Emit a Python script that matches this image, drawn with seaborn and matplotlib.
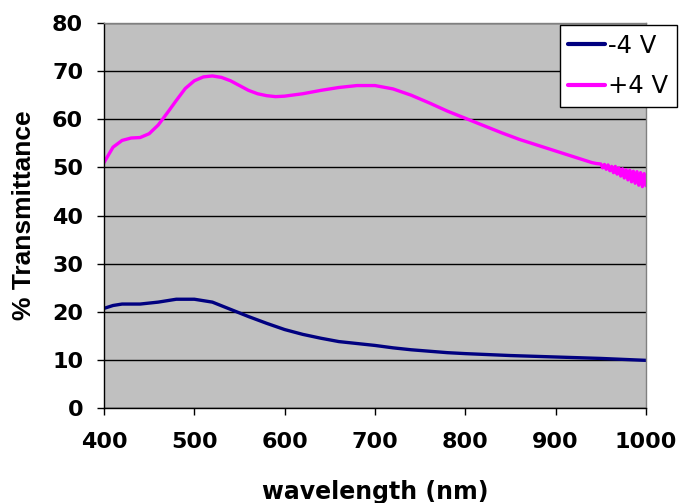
import numpy as np
import pandas as pd
import seaborn as sns
import matplotlib.pyplot as plt

# Spectra sampled from the measurement (wavelength in nm, % transmittance);
# the +4 V trace gets noisy towards the red end of the detector range.
wl_pos = [400, 410, 420, 430, 440, 450, 460, 470, 480, 490, 500, 510, 520, 530,
          540, 550, 560, 570, 580, 590, 600, 620, 640, 660, 680, 700, 720, 740,
          760, 780, 800, 820, 840, 860, 880, 900, 920, 930, 940, 945,
          950, 952, 954, 956, 958, 960, 962, 964, 966, 968, 970, 972, 974, 976,
          978, 980, 982, 984, 986, 988, 990, 992, 994, 996, 998, 1000]
t_pos = [51.0, 54.2, 55.6, 56.1, 56.2, 57.0, 58.8, 61.3, 63.9, 66.4, 68.0, 68.8,
         69.0, 68.7, 68.0, 67.0, 66.0, 65.3, 64.9, 64.7, 64.8, 65.3, 66.0, 66.6,
         67.0, 67.0, 66.3, 65.0, 63.4, 61.7, 60.2, 58.7, 57.2, 55.8, 54.6, 53.4,
         52.2, 51.6, 51.0, 50.8,
         50.7, 49.9, 50.6, 49.6, 50.5, 49.3, 50.2, 48.9, 50.2, 48.6, 49.9, 48.2,
         49.7, 47.8, 49.5, 47.4, 49.4, 47.0, 49.2, 46.7, 49.1, 46.3, 48.9, 46.0,
         48.7, 46.2]

wl_neg = [400, 410, 420, 440, 460, 480, 500, 520, 540, 560, 580, 600, 620, 640,
          660, 680, 700, 720, 740, 760, 780, 800, 850, 900, 950, 1000]
t_neg = [20.7, 21.3, 21.6, 21.6, 22.0, 22.6, 22.6, 22.0, 20.5, 19.0, 17.6, 16.3,
         15.3, 14.5, 13.8, 13.4, 13.0, 12.5, 12.1, 11.8, 11.5, 11.3, 10.9, 10.6,
         10.3, 9.9]

series_names = ["-4 V", "+4 V"]
x_ticks = [400, 500, 600, 700, 800, 900, 1000]
y_ticks = [0, 10, 20, 30, 40, 50, 60, 70, 80]

df = pd.concat([
    pd.DataFrame({"wavelength": wl_neg, "T": t_neg, "bias": series_names[0]}),
    pd.DataFrame({"wavelength": wl_pos, "T": t_pos, "bias": series_names[1]}),
])

sns.set_theme(style="white")
plt.rcParams["font.family"] = ["DejaVu Sans"]
plt.rcParams["text.color"] = "black"
plt.rcParams["axes.labelcolor"] = "black"
plt.rcParams["xtick.color"] = "black"
plt.rcParams["ytick.color"] = "black"

W, H = 679, 503
L, R, T, B = 104, 646, 23, 408

fig = plt.figure(figsize=(W / 100, H / 100), dpi=100)
ax = fig.add_axes([L / W, 1 - B / H, (R - L) / W, (B - T) / H])
ax.set_facecolor("#C0C0C0")

sns.lineplot(data=df, x="wavelength", y="T", hue="bias",
             palette={"-4 V": "#000080", "+4 V": "#FF00FF"},
             linewidth=2.4, ax=ax, legend=True, sort=False)

ax.set_xlim(400, 1000)
ax.set_ylim(0, 80)
ax.set_xticks(x_ticks)
ax.set_yticks(y_ticks)
ax.tick_params(axis="both", which="major", labelsize=16, length=5, width=1,
               color="black", labelcolor="black", direction="out",
               bottom=True, left=True)
ax.tick_params(axis="x", pad=12)
ax.tick_params(axis="y", pad=10)
for lbl in ax.get_xticklabels() + ax.get_yticklabels():
    lbl.set_fontweight("bold")

ax.yaxis.grid(True, color="black", linewidth=1)
ax.xaxis.grid(False)
ax.set_axisbelow(True)

for side in ["left", "bottom"]:
    ax.spines[side].set_color("black")
    ax.spines[side].set_linewidth(1)
for side in ["top", "right"]:
    ax.spines[side].set_color("#808080")
    ax.spines[side].set_linewidth(1)

ax.set_xlabel("wavelength (nm)", fontsize=17, fontweight="bold")
ax.xaxis.set_label_coords(0.5, (B - 480) / (B - T))
ax.set_ylabel("% Transmittance", fontsize=19, fontweight="bold",
              family=["Liberation Sans", "DejaVu Sans"])
ax.yaxis.set_label_coords((36 - L) / (R - L), 0.5)

handles, labels = ax.get_legend_handles_labels()
leg = ax.legend(handles, labels, loc="upper right",
                bbox_to_anchor=(677 / W, 1 - 25 / H),
                bbox_transform=fig.transFigure,
                prop={"family": "DejaVu Sans", "size": 17.5},
                frameon=True, fancybox=False, framealpha=1,
                edgecolor="black", facecolor="white",
                handlelength=1.5, handletextpad=0.15, borderpad=0.35,
                labelspacing=0.68, borderaxespad=0)
leg.get_frame().set_linewidth(1)
for line in leg.get_lines():
    line.set_linewidth(3)

fig.savefig("out.png", dpi=100)
